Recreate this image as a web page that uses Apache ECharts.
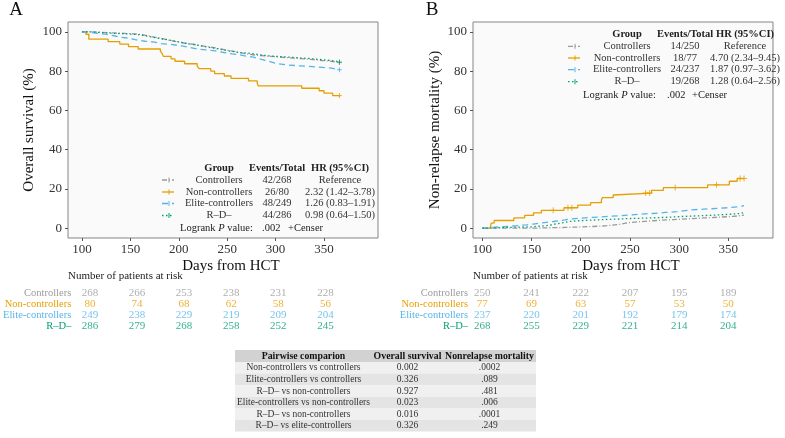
<!DOCTYPE html>
<html><head><meta charset="utf-8">
<script src="https://cdn.jsdelivr.net/npm/echarts@6/dist/echarts.min.js"></script>
<style>html,body{margin:0;padding:0;background:#fff}#c{width:785px;height:438px}</style>
</head><body><div id="c"></div><script>
const FONT = "'Liberation Serif','DejaVu Serif',serif";
const groups = ['Controllers', 'Non-controllers', 'Elite-controllers', 'R–D–'];
const groupColors = ['#9a9a9a', '#E69F00', '#56B4E9', '#009E73'];
const groupDash = [[5, 2, 1, 2], 'solid', [6, 4], [1.5, 2.5]];
const xTicks = [100, 150, 200, 250, 300, 350];
const yTicks = [0, 20, 40, 60, 80, 100];

// Panel A: overall survival (%)
const osControllers = [[100,100],[112,99.6],[125,99.3],[140,98.9],[155,98.5],[163,97.8],[170,97.0],[178,96.3],[185,95.5],[192,94.8],[200,94.0],[208,93.7],[215,92.9],[222,92.5],[230,91.8],[238,91.0],[246,90.3],[254,89.6],[262,88.8],[270,88.1],[280,87.7],[290,87.3],[300,86.9],[310,86.6],[320,86.2],[330,85.8],[340,85.4],[348,85.1],[356,84.7],[362,84.3],[366,84.3]];
const osNonControllers = [[100,100],[104,98.75],[107,96.25],[127,95],[139,93.75],[148,92.5],[158,91.25],[181,90],[183,88.75],[184,87.5],[192,86.25],[196,85],[206,83.75],[219,82.5],[221,81.25],[233,80],[237,78.75],[247,77.5],[254,76.25],[272,75],[281,73.75],[282,72.5],[327,71.25],[345,70],[350,68.75],[359,67.5],[366,67.5]];
const osElite = [[100,100],[106,99.6],[110,99.2],[116,98.8],[124,98.0],[133,97.2],[140,96.8],[148,96.0],[155,95.2],[165,94.8],[175,94.0],[182,93.6],[192,92.8],[203,92.0],[212,91.2],[220,90.8],[228,90.4],[236,89.6],[245,88.8],[255,88.4],[262,87.6],[270,87.1],[277,86.3],[283,85.5],[289,84.7],[295,83.9],[301,83.1],[312,82.7],[325,82.3],[338,81.9],[348,81.5],[358,81.1],[362,80.7],[366,80.7]];
const osRD = [[100,100],[108,99.7],[118,99.3],[130,99.0],[145,98.6],[158,97.9],[166,97.2],[174,96.5],[182,95.8],[190,95.1],[197,94.4],[205,93.7],[213,93.0],[221,92.3],[229,91.6],[237,90.9],[245,90.2],[253,89.5],[262,89.2],[271,88.5],[281,87.8],[292,87.4],[303,87.1],[314,86.7],[325,86.4],[335,86.0],[343,85.7],[351,85.3],[358,85.0],[363,84.6],[366,84.6]];

// Panel B: non-relapse mortality (%)
const nrmControllers = [[100,0],[130,0],[150,0.4],[185,0.8],[210,1.2],[225,1.6],[232,2.0],[240,2.8],[248,3.2],[258,3.6],[268,4.0],[280,4.4],[295,4.8],[310,5.2],[325,5.6],[340,6.0],[355,6.4],[362,6.6],[366,6.6]];
const nrmNonControllers = [[100,0],[108,0],[109,2.6],[112,3.9],[132,5.2],[143,6.5],[152,7.8],[160,9.1],[183,10.4],[197,11.7],[210,13.0],[221,14.3],[222,15.6],[233,16.9],[234,17.9],[272,19.3],[284,20.7],[329,22.1],[351,23.9],[359,25.3],[366,25.3]];
const nrmElite = [[100,0],[105,0.4],[110,0.8],[122,1.3],[135,1.7],[145,2.1],[152,2.5],[158,3.0],[165,3.4],[172,3.8],[178,4.2],[184,4.7],[190,5.1],[200,5.5],[212,5.9],[225,6.3],[238,6.7],[250,7.2],[262,7.6],[276,8.0],[286,8.4],[298,9.3],[312,9.7],[325,10.1],[340,10.5],[352,11.0],[362,11.5],[366,11.5]];
const nrmRD = [[100,0],[104,0.4],[125,0.7],[150,1.1],[160,1.5],[168,2.2],[175,2.6],[180,3.0],[184,3.4],[188,3.7],[195,4.1],[210,4.5],[230,4.9],[250,5.2],[270,5.6],[290,6.0],[305,6.3],[320,6.7],[338,7.1],[352,7.5],[362,7.9],[366,7.9]];
const nrmNonControllersCensor = [[172,9.1],[187,10.4],[191,10.4],[266,17.9],[270,17.9],[296,20.7],[338,22.1],[362,25.3],[366,25.3]];
const osCensorEnds = [[366,84.3],[366,67.5],[366,80.7],[366,84.6]];

// Legends
const eventsA = ['42/268', '26/80', '48/249', '44/286'];
const hrA = ['Reference', '2.32 (1.42–3.78)', '1.26 (0.83–1.91)', '0.98 (0.64–1.50)'];
const eventsB = ['14/250', '18/77', '24/237', '19/268'];
const hrB = ['Reference', '4.70 (2.34–9.45)', '1.87 (0.97–3.62)', '1.28 (0.64–2.56)'];
const logrankP = '.002';

// Numbers at risk
const riskTimes = [100, 150, 200, 250, 300, 350];
const riskA = [
  [268, 266, 253, 238, 231, 228],
  [80, 74, 68, 62, 58, 56],
  [249, 238, 229, 219, 209, 204],
  [286, 279, 268, 258, 252, 245]
];
const riskB = [
  [250, 241, 222, 207, 195, 189],
  [77, 69, 63, 57, 53, 50],
  [237, 220, 201, 192, 179, 174],
  [268, 255, 229, 221, 214, 204]
];

// Pairwise table
const tableHeader = ['Pairwise comparion', 'Overall survival', 'Nonrelapse mortality'];
const pairs = ['Non-controllers vs controllers', 'Elite-controllers vs controllers', 'R–D– vs non-controllers', 'Elite-controllers vs non-controllers', 'R–D– vs non-controllers', 'R–D– vs elite-controllers'];
const osP = ['0.002', '0.326', '0.927', '0.023', '0.016', '0.326'];
const nrmP = ['.0002', '.089', '.481', '.006', '.0001', '.249'];

const chart = echarts.init(document.getElementById('c'));

const gridA = { left: 68, top: 22, width: 310, height: 216 };
const gridB = { left: 473, top: 22, width: 300, height: 216 };
const xRangeA = [85.5, 405.8];
const xRangeB = [90.5, 395.4];
const LF = 10.5; // legend font size

function plotGrid(g) {
  return Object.assign({ show: true, backgroundColor: '#fafafa', borderColor: '#858585', borderWidth: 1 }, g);
}
function xAxisMain(gi, range) {
  return {
    type: 'value', gridIndex: gi, min: range[0], max: range[1],
    splitLine: { show: false }, axisLine: { show: false, onZero: false },
    axisTick: { show: true, length: 3, customValues: xTicks, lineStyle: { color: '#555' } },
    axisLabel: { customValues: xTicks, color: '#333', fontSize: 13, fontFamily: FONT, margin: 5 },
    name: 'Days from HCT', nameLocation: 'middle', nameGap: 21,
    nameTextStyle: { fontSize: 15, fontFamily: FONT, color: '#111', padding: [0, 0, 0, 16] }
  };
}
function yAxisMain(gi, name, gap) {
  return {
    type: 'value', gridIndex: gi, min: -5, max: 105,
    splitLine: { show: false }, axisLine: { show: false, onZero: false },
    axisTick: { show: true, length: 3, customValues: yTicks, lineStyle: { color: '#555' } },
    axisLabel: { customValues: yTicks, color: '#333', fontSize: 13, fontFamily: FONT, margin: 6 },
    name: name, nameLocation: 'middle', nameGap: gap,
    nameTextStyle: { fontSize: 15, fontFamily: FONT, color: '#111' }
  };
}
function riskXAxis(gi, range) {
  return { type: 'value', gridIndex: gi, min: range[0], max: range[1], show: false };
}
function riskYAxis(gi) {
  return {
    type: 'category', gridIndex: gi, data: groups, inverse: true,
    axisLine: { show: false }, axisTick: { show: false }, splitLine: { show: false },
    axisLabel: { interval: 0, margin: 5, fontSize: 10.5, fontFamily: FONT, color: (v, i) => groupColors[groups.indexOf(v)] }
  };
}

const curvesA = [osControllers, osNonControllers, osElite, osRD];
const curvesB = [nrmControllers, nrmNonControllers, nrmElite, nrmRD];
const series = [];
function addCurves(curves, idx) {
  curves.forEach((d, i) => {
    series.push({
      type: 'line', xAxisIndex: idx, yAxisIndex: idx, step: 'end', data: d,
      showSymbol: false, symbol: 'none', silent: true, z: i === 1 ? 3 : 4,
      lineStyle: { color: groupColors[i], width: 1.3, type: groupDash[i] }
    });
  });
}
addCurves(curvesA, 0);
addCurves(curvesB, 1);
const plusPath = 'path://M5,0L5,10M0,5L10,5';
series.push({
  type: 'scatter', xAxisIndex: 1, yAxisIndex: 1, data: nrmNonControllersCensor, symbol: plusPath, symbolSize: 6,
  itemStyle: { color: 'none', borderColor: groupColors[1], borderWidth: 1 }, silent: true
});
osCensorEnds.forEach((p, i) => {
  series.push({
    type: 'scatter', xAxisIndex: 0, yAxisIndex: 0, data: [p], symbol: plusPath, symbolSize: 5,
    itemStyle: { color: 'none', borderColor: groupColors[i], borderWidth: 1 }, silent: true
  });
});
function addRisk(risk, idx) {
  risk.forEach((row, gi) => {
    series.push({
      type: 'scatter', xAxisIndex: idx, yAxisIndex: idx, symbolSize: 0.1, silent: true,
      itemStyle: { color: 'rgba(0,0,0,0)' },
      data: riskTimes.map((t, k) => [t, groups[gi], row[k]]),
      label: { show: true, position: 'inside', formatter: p => String(p.value[2]), color: groupColors[gi], fontSize: 11, fontFamily: FONT }
    });
  });
}
addRisk(riskA, 2);
addRisk(riskB, 3);

// Graphic: panel letters, legends, risk-table titles, pairwise table
const graphic = [];
const T = (x, y, text, opt) => graphic.push({
  type: 'text', x: x, y: y, silent: true,
  style: Object.assign({ text: text, fontFamily: FONT, fontSize: LF, fill: '#222', textAlign: 'center', textVerticalAlign: 'middle' }, opt || {})
});
T(16, 10, 'A', { fontSize: 19, fill: '#111' });
T(432, 10, 'B', { fontSize: 19, fill: '#111' });
T(68, 276, 'Number of patients at risk', { textAlign: 'left', fontSize: 11 });
T(473, 276, 'Number of patients at risk', { textAlign: 'left', fontSize: 11 });

function legend(o, events, hr) {
  T(o.gx, o.hy, 'Group', { fontWeight: 'bold' });
  T(o.ex, o.hy, 'Events/Total', { fontWeight: 'bold' });
  T(o.hx, o.hy, 'HR (95%CI)', { fontWeight: 'bold' });
  groups.forEach((g, i) => {
    const y = o.ys[i];
    graphic.push({ type: 'line', silent: true, shape: { x1: o.kx - 6, y1: y, x2: o.kx + 6, y2: y },
      style: { stroke: groupColors[i], lineWidth: 1.3, lineDash: groupDash[i] === 'solid' ? null : groupDash[i] } });
    graphic.push({ type: 'line', silent: true, shape: { x1: o.kx + 1, y1: y - 2.5, x2: o.kx + 1, y2: y + 2.5 },
      style: { stroke: groupColors[i], lineWidth: 1 } });
    T(o.gx, y, g, { fill: '#333' });
    T(o.ex, y, events[i], { fill: '#333' });
    T(o.hx, y, hr[i], { fill: '#333' });
  });
  graphic.push({ type: 'text', x: o.lx, y: o.ly, silent: true,
    style: { text: 'Logrank {i|P} value:', fontFamily: FONT, fontSize: LF, fill: '#222', textAlign: 'left', textVerticalAlign: 'middle',
      rich: { i: { fontStyle: 'italic', fontFamily: FONT, fontSize: LF, fill: '#222' } } } });
  T(o.px, o.ly, logrankP, { textAlign: 'left' });
  T(o.cx, o.ly, '+Censer', { textAlign: 'left' });
}
legend({ kx: 168, gx: 219, ex: 277, hx: 340, hy: 168.5, ys: [180, 192, 203.5, 215.5], lx: 180, ly: 228, px: 262, cx: 288 }, eventsA, hrA);
legend({ kx: 574, gx: 627, ex: 685, hx: 745, hy: 34, ys: [46.3, 58, 69.7, 81.7], lx: 583, ly: 95.3, px: 667, cx: 692 }, eventsB, hrB);

// Pairwise table
const tx = [235, 372, 443, 536];
const headerTop = 350, headerH = 12, rowH = 11.6;
graphic.push({ type: 'rect', silent: true, shape: { x: tx[0], y: headerTop, width: tx[3] - tx[0], height: headerH }, style: { fill: '#d2d2d2' } });
tableHeader.forEach((h, c) => T((tx[c] + tx[c + 1]) / 2, headerTop + headerH / 2, h, { fontWeight: 'bold', fontSize: 9.8, fill: '#111' }));
pairs.forEach((p, r) => {
  const y0 = headerTop + headerH + r * rowH;
  graphic.push({ type: 'rect', silent: true, shape: { x: tx[0], y: y0, width: tx[3] - tx[0], height: rowH }, style: { fill: r % 2 === 0 ? '#f0f0f0' : '#e4e4e4' } });
  T((tx[0] + tx[1]) / 2, y0 + rowH / 2, p, { fontSize: 9.5, fill: '#333' });
  T((tx[1] + tx[2]) / 2, y0 + rowH / 2, osP[r], { fontSize: 9.5, fill: '#333' });
  T((tx[2] + tx[3]) / 2, y0 + rowH / 2, nrmP[r], { fontSize: 9.5, fill: '#333' });
});

chart.setOption({
  animation: false,
  backgroundColor: '#ffffff',
  textStyle: { fontFamily: FONT },
  grid: [
    plotGrid(gridA), plotGrid(gridB),
    { left: 68, width: 310, top: 287.4, height: 44.8 },
    { left: 473, width: 300, top: 287.4, height: 44.8 }
  ],
  xAxis: [xAxisMain(0, xRangeA), xAxisMain(1, xRangeB), riskXAxis(2, xRangeA), riskXAxis(3, xRangeB)],
  yAxis: [yAxisMain(0, 'Overall survival (%)', 31), yAxisMain(1, 'Non-relapse mortality (%)', 30), riskYAxis(2), riskYAxis(3)],
  series: series,
  graphic: graphic
});
</script></body></html>
